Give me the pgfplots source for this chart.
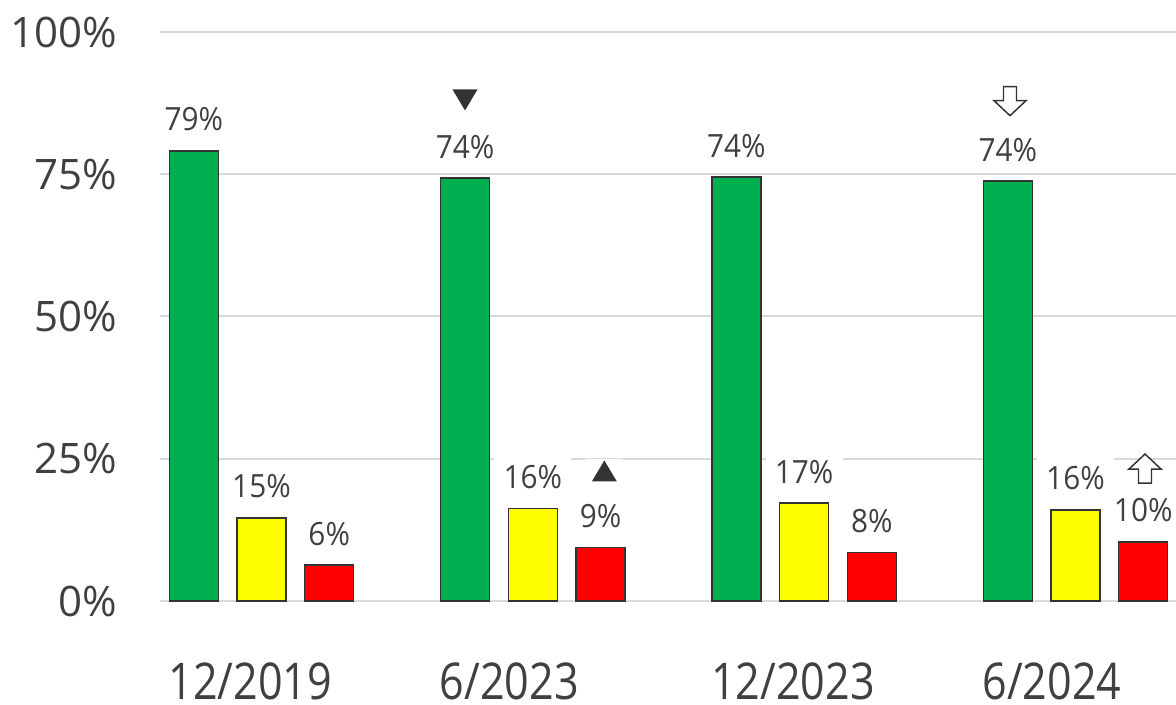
\documentclass[border=0pt]{standalone}
\usepackage{fontspec}
\setmainfont{Open Sans}
\usepackage{graphicx}
\usepackage{pgfplots}
\pgfplotsset{compat=1.18}
\definecolor{txt}{RGB}{64,64,64}
\definecolor{gridc}{RGB}{217,217,217}
\definecolor{cgreen}{RGB}{0,176,80}
\definecolor{cyellow}{RGB}{255,255,0}
\definecolor{cred}{RGB}{255,0,0}
\definecolor{edge}{RGB}{51,51,51}
\begin{document}
\begin{tikzpicture}
\begin{axis}[
  scale only axis, width=762pt, height=426.75pt,
  xmin=-0.3741, xmax=3.3704, ymin=0, ymax=100,
  clip=false,
  ybar, bar width=36.75pt,
  axis line style={draw=none},
  major tick length=0pt,
  ymajorgrids, grid style={gridc, line width=1.5pt},
  ytick={0,25,50,75,100},
  yticklabels={0\%,25\%,50\%,75\%,100\%},
  xtick={0,1,2,3},
  xticklabels={\scalebox{0.85}[1]{12/2019},\scalebox{0.85}[1]{6/2023},\scalebox{0.85}[1]{12/2023},\scalebox{0.85}[1]{6/2024}},
  yticklabel style={font=\fontsize{31.5}{36}\selectfont, text=txt, anchor=east, inner sep=0pt, xshift=-32.25pt},
  xticklabel style={font=\fontsize{38}{43}\selectfont, text=txt, anchor=north west, inner sep=0pt, xshift=-70pt, yshift=-46pt},
  point meta=explicit symbolic,
  nodes near coords={\scalebox{0.93}[1]{\pgfplotspointmeta\%}},
  every node near coord/.append style={font=\fontsize{24}{28}\selectfont, text=txt, fill=white, inner xsep=7pt, inner ysep=7pt, anchor=south, yshift=7.25pt},
]
\addplot[bar shift=-50.8pt, fill=cgreen, draw=edge, line width=1.1pt]
  coordinates {(0,79.1)[79] (1,74.3)[74] (2,74.5)[74] (3,73.8)[74]};
\addplot[bar shift=0pt, fill=cyellow, draw=edge, line width=1.1pt]
  coordinates {(0,14.6)[15] (1,16.3)[16] (2,17.2)[17] (3,16.0)[16]};
\addplot[bar shift=50.8pt, fill=cred, draw=edge, line width=1.1pt]
  coordinates {(0,6.3)[6] (1,9.4)[9] (2,8.5)[8] (3,10.4)[10]};
\coordinate (ll) at (rel axis cs:0,0);
% annotations
\fill[edge] (axis cs:0.75,88.05) ++(-9.375pt,7.875pt) -- ++(18.75pt,0pt) -- ++(-9.375pt,-15.75pt) -- cycle;
\fill[white] (axis cs:1.2635,22.85) ++(-14.25pt,-9pt) rectangle ++(28.5pt,18pt);
\fill[edge] (axis cs:1.2635,22.85) ++(-9.375pt,-7.875pt) -- ++(18.75pt,0pt) -- ++(-9.375pt,15.75pt) -- cycle;
\draw[edge, fill=white, line width=1.1pt, line join=miter] (axis cs:2.7586,90.39) ++(-4.875pt,0pt) -- ++(0pt,-10.5pt) -- ++(-7.125pt,0pt) -- ++(12pt,-11.25pt) -- ++(12pt,11.25pt) -- ++(-7.125pt,0pt) -- ++(0pt,10.5pt) -- cycle;
\draw[edge, fill=white, line width=1.1pt, line join=miter] (axis cs:3.2561,25.83) -- ++(12pt,-11.25pt) -- ++(-7.125pt,0pt) -- ++(0pt,-10.5pt) -- ++(-9.75pt,0pt) -- ++(0pt,10.5pt) -- ++(-7.125pt,0pt) -- cycle;
\end{axis}
\pgfresetboundingbox
\path (ll) ++(-120pt,-78pt) rectangle ++(882pt,528.75pt);
\end{tikzpicture}
\end{document}
